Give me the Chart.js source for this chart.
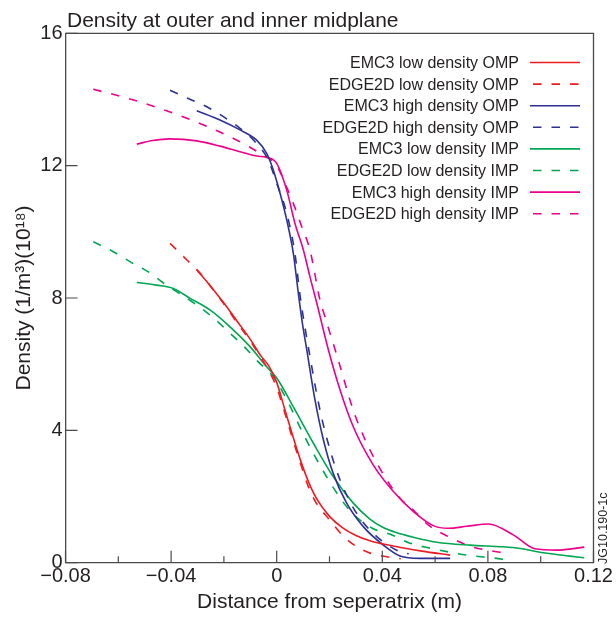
<!DOCTYPE html>
<html>
<head>
<meta charset="utf-8">
<style>
html,body{margin:0;padding:0;background:#fff;}
#wrap{width:616px;height:617px;}
</style>
<script src="https://cdn.jsdelivr.net/npm/chart.js@4.4.1/dist/chart.umd.min.js"></script>
</head>
<body>
<div id="wrap"><canvas id="c" width="616" height="617"></canvas></div>
<script>
// ---------- data ----------
const chartTitle = 'Density at outer and inner midplane';
const xAxisTitle = 'Distance from seperatrix (m)';
const yAxisTitle = 'Density (1/m\u00B3)(10\u00B9\u2078)';
const sideNote = 'JG10.190-1c';

const xTickValues = [-0.08, -0.04, 0, 0.04, 0.08, 0.12];
const xTickLabels = ['\u22120.08', '\u22120.04', '0', '0.04', '0.08', '0.12'];
const xMinorTicks = [-0.06, -0.02, 0.02, 0.06, 0.10];
const yTickValues = [0, 4, 8, 12, 16];
const yTickLabels = ['0', '4', '8', '12', '16'];

const seriesLabels = [
  'EMC3 low density OMP', 'EDGE2D low density OMP',
  'EMC3 high density OMP', 'EDGE2D high density OMP',
  'EMC3 low density IMP', 'EDGE2D low density IMP',
  'EMC3 high density IMP', 'EDGE2D high density IMP'
];

// EMC3 low density OMP
const emc3LowOmpX = [-0.0303,-0.025,-0.020,-0.015,-0.010,-0.006,-0.003,0.000,0.003,0.006,0.009,0.012,0.015,0.020,0.025,0.030,0.035,0.040,0.047,0.055,0.0657];
const emc3LowOmpY = [8.85,8.35,7.85,7.30,6.75,6.25,5.95,5.45,4.65,3.85,3.10,2.45,1.95,1.40,1.05,0.82,0.67,0.57,0.46,0.35,0.23];
// EDGE2D low density OMP
const edgeLowOmpX = [-0.0404,-0.034,-0.029,-0.025,-0.020,-0.015,-0.010,-0.006,-0.003,0.000,0.003,0.006,0.009,0.012,0.015,0.020,0.025,0.030,0.035,0.040,0.047];
const edgeLowOmpY = [9.65,9.15,8.75,8.35,7.82,7.25,6.70,6.20,5.80,5.30,4.55,3.75,3.00,2.30,1.80,1.30,0.82,0.50,0.30,0.20,0.12];
// EMC3 high density OMP
const emc3HighOmpX = [-0.0303,-0.0215,-0.0139,-0.0076,-0.0038,-0.0013,0.0013,0.0038,0.0063,0.0082,0.0098,0.0114,0.0145,0.0177,0.0214,0.0265,0.0328,0.0404,0.0467,0.0543,0.0657];
const emc3HighOmpY = [13.66,13.38,13.08,12.77,12.37,11.87,11.16,10.36,9.35,8.14,7.20,6.43,4.92,3.71,2.70,1.80,1.09,0.53,0.20,0.13,0.13];
// EDGE2D high density OMP
const edgeHighOmpX = [-0.0404,-0.0335,-0.0265,-0.0202,-0.0139,-0.0082,-0.0032,0.0000,0.0038,0.0069,0.0088,0.0126,0.0164,0.0202,0.0240,0.0303,0.0379,0.0467,0.0500];
const edgeHighOmpY = [14.28,14.03,13.78,13.48,13.13,12.72,12.17,11.47,10.56,9.35,8.10,6.23,4.61,3.41,2.50,1.49,0.79,0.33,0.27];
// EMC3 low density IMP
const emc3LowImpX = [-0.0530,-0.0455,-0.0392,-0.0328,-0.0253,-0.0177,-0.0101,-0.0038,0.0000,0.0063,0.0139,0.0214,0.0290,0.0353,0.0400,0.0450,0.0517,0.0606,0.0732,0.0858,0.0922,0.1010,0.1111,0.1165];
const emc3LowImpY = [8.47,8.39,8.29,7.99,7.64,7.13,6.53,5.92,5.58,4.71,3.61,2.60,1.80,1.32,1.08,0.92,0.77,0.62,0.53,0.48,0.43,0.30,0.20,0.15];
// EDGE2D low density IMP
const edgeLowImpX = [-0.0695,-0.0619,-0.0556,-0.0486,-0.0430,-0.0303,-0.0240,-0.0183,-0.0126,-0.0070,-0.0013,0.0040,0.0100,0.0160,0.0220,0.0280,0.0360,0.0430,0.0505,0.0581,0.0720,0.0833,0.0858];
const edgeLowImpY = [9.70,9.40,9.10,8.79,8.46,7.79,7.40,6.98,6.55,6.07,5.62,4.90,3.90,3.00,2.20,1.55,1.05,0.86,0.59,0.44,0.23,0.13,0.10];
// EMC3 high density IMP
const emc3HighImpX = [-0.0530,-0.0470,-0.0404,-0.0303,-0.0215,-0.0139,-0.0076,-0.0038,0.0000,0.0038,0.0069,0.0101,0.0126,0.0152,0.0196,0.0240,0.0290,0.0366,0.0442,0.0517,0.0593,0.0650,0.0720,0.0802,0.0896,0.0978,0.1061,0.1165];
const emc3HighImpY = [12.65,12.76,12.81,12.75,12.59,12.42,12.29,12.25,12.07,11.26,10.26,9.45,8.64,7.84,6.43,5.22,4.11,2.95,2.15,1.55,1.12,1.04,1.10,1.17,0.84,0.42,0.38,0.47];
// EDGE2D high density IMP
const edgeHighImpX = [-0.0695,-0.0549,-0.0417,-0.0284,-0.0151,-0.0063,0.0000,0.0035,0.0063,0.0095,0.0126,0.0164,0.0183,0.0233,0.0290,0.0341,0.0417,0.0467,0.0524,0.0574,0.0650,0.0732,0.0833,0.0858];
const edgeHighImpY = [14.31,14.00,13.66,13.25,12.77,12.37,12.00,11.40,10.86,10.15,9.45,7.94,7.43,6.13,4.61,3.61,2.50,1.95,1.54,1.14,0.79,0.50,0.33,0.30];

// ---------- styling ----------
const FONT = '"Liberation Sans", Arial, Helvetica, sans-serif';
const TEXT = '#231f20';
const AXIS = '#4a4a4a';
const RED = '#ed1c24', BLUE = '#2e3192', GREEN = '#00a651', PINK = '#ec008c';
const DASH = [8.5, 10];

function pts(xs, ys) { return xs.map((x, i) => ({ x: x, y: ys[i] })); }
function ds(i, xs, ys, color, dashed) {
  return {
    label: seriesLabels[i], data: pts(xs, ys),
    borderColor: color, backgroundColor: color, borderWidth: 1.6,
    borderDash: dashed ? DASH : [], pointRadius: 0, fill: false,
    cubicInterpolationMode: 'monotone'
  };
}

const datasets = [
  ds(0, emc3LowOmpX, emc3LowOmpY, RED, false),
  ds(1, edgeLowOmpX, edgeLowOmpY, RED, true),
  ds(2, emc3HighOmpX, emc3HighOmpY, BLUE, false),
  ds(3, edgeHighOmpX, edgeHighOmpY, BLUE, true),
  ds(4, emc3LowImpX, emc3LowImpY, GREEN, false),
  ds(5, edgeLowImpX, edgeLowImpY, GREEN, true),
  ds(6, emc3HighImpX, emc3HighImpY, PINK, false),
  ds(7, edgeHighImpX, edgeHighImpY, PINK, true)
];

const decor = {
  id: 'decor',
  afterDraw(chart) {
    const ctx = chart.ctx, a = chart.chartArea;
    const xs = chart.scales.x, ys = chart.scales.y;
    ctx.save();
    // frame (top and right)
    ctx.strokeStyle = AXIS; ctx.lineWidth = 1.3; ctx.setLineDash([]);
    ctx.beginPath();
    ctx.moveTo(a.left, a.top); ctx.lineTo(a.right, a.top); ctx.lineTo(a.right, a.bottom);
    ctx.stroke();
    // inward ticks
    ctx.lineWidth = 1.2;
    ctx.beginPath();
    xTickValues.forEach(v => { const p = xs.getPixelForValue(v); ctx.moveTo(p, a.bottom); ctx.lineTo(p, a.bottom - 12); });
    xMinorTicks.forEach(v => { const p = xs.getPixelForValue(v); ctx.moveTo(p, a.bottom); ctx.lineTo(p, a.bottom - 6.5); });
    yTickValues.forEach(v => { const p = ys.getPixelForValue(v); ctx.moveTo(a.left, p); ctx.lineTo(a.left + 12, p); });
    ctx.stroke();
    // title
    ctx.fillStyle = TEXT;
    ctx.font = '21px ' + FONT;
    ctx.textAlign = 'left'; ctx.textBaseline = 'alphabetic';
    ctx.fillText(chartTitle, a.left + 1.5, 27);
    // legend
    ctx.font = '16px ' + FONT;
    ctx.textBaseline = 'middle';
    chart.data.datasets.forEach((d, i) => {
      const y = 62.5 + i * 21.6;
      ctx.fillStyle = TEXT; ctx.textAlign = 'right';
      ctx.fillText(d.label, 519, y + 1);
      ctx.strokeStyle = d.borderColor; ctx.lineWidth = 1.6;
      ctx.setLineDash(d.borderDash || []);
      ctx.beginPath();
      if (d.borderDash && d.borderDash.length) { ctx.moveTo(533, y); ctx.lineTo(580, y); }
      else { ctx.moveTo(530, y); ctx.lineTo(580, y); }
      ctx.stroke();
    });
    ctx.setLineDash([]);
    // side note
    ctx.translate(603.5, 564);
    ctx.rotate(-Math.PI / 2);
    ctx.font = '12.5px ' + FONT;
    ctx.fillStyle = TEXT; ctx.textAlign = 'left'; ctx.textBaseline = 'middle';
    ctx.fillText(sideNote, 0, 0);
    ctx.restore();
  }
};

new Chart(document.getElementById('c'), {
  type: 'line',
  data: { datasets: datasets },
  options: {
    responsive: false, animation: false, devicePixelRatio: 1,
    layout: { padding: { top: 33.3, right: 22.5, left: 0, bottom: 0 } },
    plugins: { legend: { display: false }, title: { display: false }, tooltip: { enabled: false } },
    elements: { line: { capBezierPoints: true } },
    scales: {
      x: {
        type: 'linear', min: -0.08, max: 0.12,
        afterBuildTicks: s => { s.ticks = xTickValues.map(v => ({ value: v })); },
        afterFit: s => { s.height = 54.3; },
        grid: { display: false, drawTicks: false },
        border: { display: true, color: AXIS, width: 1.3 },
        ticks: {
          autoSkip: false, maxRotation: 0, padding: 2, color: TEXT,
          font: { family: FONT, size: 20 },
          callback: (v, i) => xTickLabels[i]
        },
        title: { display: true, text: xAxisTitle, color: TEXT, font: { family: FONT, size: 21 }, padding: { top: 0, bottom: 2 } }
      },
      y: {
        type: 'linear', min: 0, max: 16,
        afterBuildTicks: s => { s.ticks = yTickValues.map(v => ({ value: v })); },
        afterFit: s => { s.width = 65.5; },
        grid: { display: false, drawTicks: false },
        border: { display: true, color: AXIS, width: 1.3 },
        ticks: {
          autoSkip: false, padding: 3, color: TEXT,
          font: { family: FONT, size: 20 },
          callback: (v, i) => yTickLabels[i]
        },
        title: { display: true, text: yAxisTitle, color: TEXT, font: { family: FONT, size: 21 }, padding: { top: 12, bottom: 0 } }
      }
    }
  },
  plugins: [decor]
});
</script>
</body>
</html>
